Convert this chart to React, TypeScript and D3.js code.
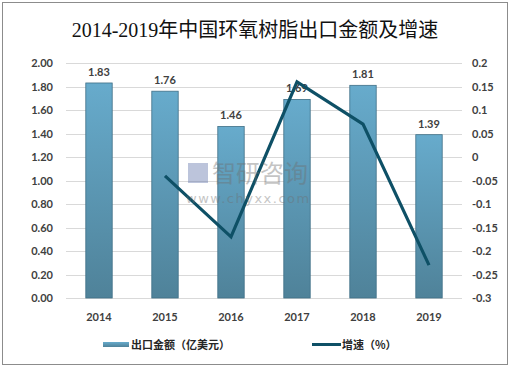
import { useEffect, useRef } from "react";
import * as d3 from "d3";

const years = ["2014", "2015", "2016", "2017", "2018", "2019"];
const exportValues = [1.83, 1.76, 1.46, 1.69, 1.81, 1.39];
const growthYears = ["2015", "2016", "2017", "2018", "2019"];
const growthValues = [-0.04, -0.17, 0.16, 0.07, -0.23];
const leftTicks = [0, 0.2, 0.4, 0.6, 0.8, 1.0, 1.2, 1.4, 1.6, 1.8, 2.0];
const rightTicks = [-0.3, -0.25, -0.2, -0.15, -0.1, -0.05, 0, 0.05, 0.1, 0.15, 0.2];

const W = 510;
const H = 367;

const App = () => {
  const svgRef = useRef<SVGSVGElement | null>(null);

  useEffect(() => {
    const svg = d3.select(svgRef.current);
    svg.selectAll("*").remove();

    const left = 66;
    const right = 462;
    const top = 63;
    const bottom = 298;

    const defs = svg.append("defs");
    const grad = defs
      .append("linearGradient")
      .attr("id", "barGrad")
      .attr("x1", 0)
      .attr("y1", 0)
      .attr("x2", 0)
      .attr("y2", 1);
    grad.append("stop").attr("offset", "0%").attr("stop-color", "#67abcc");
    grad.append("stop").attr("offset", "100%").attr("stop-color", "#4f8299");

    // frame
    svg
      .append("rect")
      .attr("x", 2.5)
      .attr("y", 2.5)
      .attr("width", W - 5)
      .attr("height", H - 5)
      .attr("fill", "#fff")
      .attr("stroke", "#8c8c8c")
      .attr("stroke-width", 1);

    svg
      .append("text")
      .attr("x", W / 2)
      .attr("y", 37)
      .attr("text-anchor", "middle")
      .attr("font-family", "'Liberation Serif', 'Noto Sans CJK SC', serif")
      .attr("font-size", 20)
      .attr("fill", "#111")
      .text("2014-2019年中国环氧树脂出口金额及增速");

    const x = d3
      .scaleBand()
      .domain(years)
      .range([left, right])
      .paddingInner(0.6)
      .paddingOuter(0.3);
    const y = d3.scaleLinear().domain([0, 2]).range([bottom, top]);
    const y2 = d3.scaleLinear().domain([-0.3, 0.2]).range([bottom, top]);

    const g = svg.append("g");

    // gridlines
    g.selectAll(".grid")
      .data(leftTicks)
      .enter()
      .append("line")
      .attr("x1", left)
      .attr("x2", right)
      .attr("y1", (d) => Math.round(y(d)) + 0.5)
      .attr("y2", (d) => Math.round(y(d)) + 0.5)
      .attr("stroke", "#d9d9d9")
      .attr("stroke-width", 1);

    const tickFont = "Lato, 'Open Sans', sans-serif";

    g.selectAll(".lt")
      .data(leftTicks)
      .enter()
      .append("text")
      .attr("x", 53)
      .attr("y", (d) => y(d) + 4)
      .attr("text-anchor", "end")
      .attr("font-family", tickFont)
      .attr("font-weight", "bold")
      .attr("font-size", 11)
      .attr("fill", "#404040")
      .text((d) => d3.format(".2f")(d));

    g.selectAll(".rt")
      .data(rightTicks)
      .enter()
      .append("text")
      .attr("x", 472)
      .attr("y", (d) => y2(d) + 4)
      .attr("font-family", tickFont)
      .attr("font-weight", "bold")
      .attr("font-size", 11)
      .attr("fill", "#404040")
      .text((d) => String(+d.toFixed(2)));

    // bars
    g.selectAll(".bar")
      .data(exportValues)
      .enter()
      .append("rect")
      .attr("x", (_d, i) => x(years[i])!)
      .attr("y", (d) => y(d))
      .attr("width", x.bandwidth())
      .attr("height", (d) => bottom - y(d))
      .attr("fill", "url(#barGrad)")
      .attr("stroke", "#3f6f86")
      .attr("stroke-width", 0.8);

    g.selectAll(".lbl")
      .data(exportValues)
      .enter()
      .append("text")
      .attr("x", (_d, i) => x(years[i])! + x.bandwidth() / 2)
      .attr("y", (d) => y(d) - 7)
      .attr("text-anchor", "middle")
      .attr("font-family", tickFont)
      .attr("font-weight", "bold")
      .attr("font-size", 11)
      .attr("fill", "#404040")
      .text((d) => d.toFixed(2));

    // line
    const line = d3
      .line<number>()
      .x((_d, i) => x(growthYears[i])! + x.bandwidth() / 2)
      .y((d) => y2(d));
    g.append("path")
      .datum(growthValues)
      .attr("fill", "none")
      .attr("stroke", "#0e5066")
      .attr("stroke-width", 3.2)
      .attr("d", line);

    // watermark
    const wm = g.append("g").attr("opacity", 0.4);
    wm.append("rect")
      .attr("x", 188)
      .attr("y", 163)
      .attr("width", 20)
      .attr("height", 20)
      .attr("fill", "#5a6ea8");
    wm.append("text")
      .attr("x", 212)
      .attr("y", 182)
      .attr("font-family", "'Noto Sans CJK SC', sans-serif")
      .attr("font-size", 24)
      .attr("fill", "#6e6e6e")
      .text("智研咨询");
    wm.append("text")
      .attr("x", 186)
      .attr("y", 203)
      .attr("font-family", "'DejaVu Sans', sans-serif")
      .attr("font-size", 13)
      .attr("letter-spacing", 1.5)
      .attr("fill", "#6e6e6e")
      .text("www.chyxx.com");

    // x labels
    g.selectAll(".xl")
      .data(years)
      .enter()
      .append("text")
      .attr("x", (d) => x(d)! + x.bandwidth() / 2)
      .attr("y", 321)
      .attr("text-anchor", "middle")
      .attr("font-family", tickFont)
      .attr("font-weight", "bold")
      .attr("font-size", 11)
      .attr("fill", "#404040")
      .text((d) => d);

    // legend
    const lg = svg.append("g");
    lg.append("rect")
      .attr("x", 103)
      .attr("y", 342)
      .attr("width", 26)
      .attr("height", 5)
      .attr("fill", "url(#barGrad)");
    lg.append("text")
      .attr("x", 131)
      .attr("y", 349)
      .attr("font-family", "'Noto Sans CJK SC', sans-serif")
      .attr("font-weight", "bold")
      .attr("font-size", 11)
      .attr("fill", "#262626")
      .text("出口金额（亿美元）");
    lg.append("line")
      .attr("x1", 312)
      .attr("x2", 341)
      .attr("y1", 344.5)
      .attr("y2", 344.5)
      .attr("stroke", "#0e5066")
      .attr("stroke-width", 3);
    lg.append("text")
      .attr("x", 342)
      .attr("y", 349)
      .attr("font-family", "'Noto Sans CJK SC', sans-serif")
      .attr("font-weight", "bold")
      .attr("font-size", 11)
      .attr("fill", "#262626")
      .text("增速（%）");
  }, []);

  return (
    <svg
      ref={svgRef}
      width={W}
      height={H}
      style={{ position: "absolute", left: 0, top: 0 }}
    />
  );
};

export default App;
